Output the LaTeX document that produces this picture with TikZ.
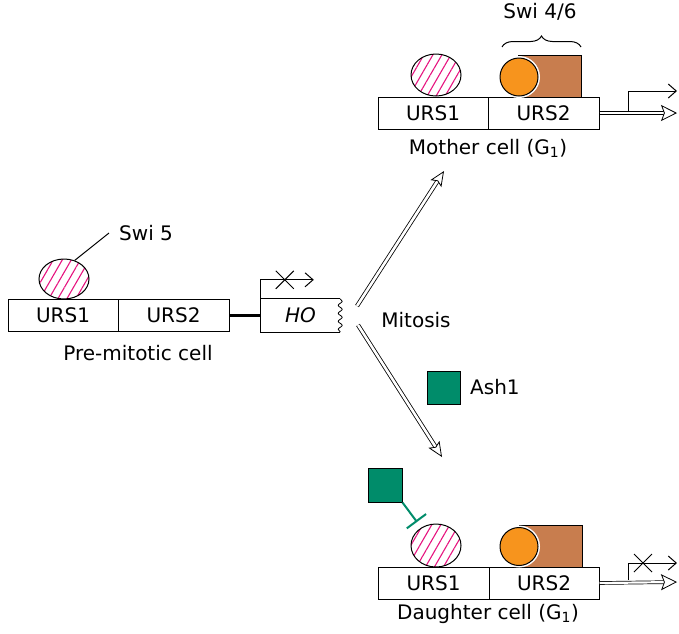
\documentclass[tikz,border=0pt]{standalone}
\usepackage{fontspec}
\setmainfont{DejaVu Sans}
\usetikzlibrary{arrows.meta,shapes.geometric,patterns.meta,decorations.pathreplacing,decorations.pathmorphing,calc}
\definecolor{hatchpink}{HTML}{E6147F}
\definecolor{swiorange}{HTML}{F7941D}
\definecolor{swibrown}{HTML}{C87D4E}
\definecolor{ashgreen}{HTML}{008C6A}
\tikzset{
  urs/.style={draw, line width=1pt, minimum width=110pt, minimum height=32pt, inner sep=0pt, font=\fontsize{20}{24}\selectfont},
  lbl/.style={font=\fontsize{20}{24}\selectfont, inner sep=0pt},
  swifive/.style={ellipse, draw, line width=1pt, minimum width=50pt, minimum height=42pt, inner sep=0pt,
    pattern={Lines[angle=60, distance=7.8pt, line width=1.1pt]}, pattern color=hatchpink},
  swifour/.style={circle, draw=black, line width=1pt, fill=swiorange, minimum size=38pt, inner sep=0pt,
    preaction={draw=white, line width=4pt}},
  swisix/.style={draw, line width=1pt, fill=swibrown, minimum width=63pt, minimum height=42pt, inner sep=0pt},
  ash/.style={draw, line width=1pt, fill=ashgreen, minimum size=33pt, inner sep=0pt},
  mitarrow/.style={double, double distance=2.6pt, line width=0.8pt,
    -{Stealth[length=15pt, width=13pt, inset=3pt, fill=white, line width=0.8pt]}},
  txarrow/.style={double, double distance=2.2pt, line width=0.7pt,
    -{Stealth[length=16pt, width=16pt, inset=3pt, fill=white, line width=0.8pt]}},
  startarrow/.style={line width=1pt, -{Straight Barb[length=8pt, width=14pt, line width=1pt]}},
  blocked/.style={line width=1pt},
}
\begin{document}
\begin{tikzpicture}[x=1pt, y=-1pt]
\useasboundingbox (0,0) rectangle (679,633);

% ---- pre-mitotic cell ----
\node[urs] (p1) at (63,315.5) {URS1};
\node[urs, minimum width=111pt] (p2) at (173.5,315.5) {URS2};
\node[lbl, minimum width=79pt, minimum height=33pt] (ho) at (300.5,315.5) {\itshape HO};
\draw[line width=1pt] (ho.north east) -- (ho.north west) -- (ho.south west) -- (ho.south east);
\draw[line width=0.8pt, decorate, decoration={snake, segment length=8pt, amplitude=2pt}] (ho.north east) -- (ho.south east);
\draw[line width=2.6pt] (p2.east) -- (ho.west);
\coordinate (hoturn) at ($(ho.north west)+(0,-19)$);
\coordinate (hoend) at ($(hoturn)+(53,0)$);
\draw[startarrow] (ho.north west) -- (hoturn) -- (hoend);
\coordinate (hox) at ($(hoturn)+(24,0)$);
\draw[blocked] ($(hox)+(-9,-9)$) -- ($(hox)+(9,9)$) ($(hox)+(-9,9)$) -- ($(hox)+(9,-9)$);
\node[swifive, minimum height=40pt] (e0) at (64,279) {};
\node[lbl, anchor=west] (s5) at (119,233) {Swi 5};
\draw[line width=1pt] (e0.60) -- ($(s5.west)+(-10,0)$);
\node[lbl] (pre) at (138,353) {Pre-mitotic cell};

% ---- mitosis ----
\node[lbl] (mit) at (416,320) {Mitosis};
\coordinate (mu0) at (357,306);
\coordinate (mu1) at (444,171);
\coordinate (md0) at (358,325);
\coordinate (md1) at (442,457);
\draw[mitarrow] (mu0) -- (mu1);
\draw[mitarrow] (md0) -- (md1);
\node[ash] (ash1) at (443.5,387.5) {};
\node[lbl, anchor=west] (ashl) at (470,387) {Ash1};

% ---- mother cell ----
\node[urs] (m1) at (433,113) {URS1};
\node[urs, minimum width=111pt] (m2) at (543.5,113) {URS2};
\node[swifive] (e1) at (436,75) {};
\node[swisix] (m6) at (550,76) {};
\node[swifour] (m4) at (519,77) {};
\draw[line width=1pt, decorate, decoration={brace, amplitude=11pt}] (502,47) -- (581,47);
\node[lbl] (m46) at (540,12) {Swi 4/6};
\node[lbl] (mc) at (488,148) {Mother cell (G\textsubscript{1})};
\coordinate (mend) at (677,113);
\draw[txarrow] (m2.east) -- (mend);
\coordinate (mbase) at (628,111);
\coordinate (mturn) at (628,91);
\coordinate (mtip) at (677,91);
\draw[startarrow] (mbase) -- (mturn) -- (mtip);

% ---- daughter cell ----
\node[urs, minimum width=111pt] (d1) at (433.5,583) {URS1};
\node[urs, minimum width=110pt] (d2) at (544,583) {URS2};
\node[swifive, minimum height=43pt] (e2) at (436,545.5) {};
\node[swisix] (d6) at (550.5,546) {};
\node[swifour] (d4) at (519,546.5) {};
\node[lbl] (dc) at (488,614) {Daughter cell (G\textsubscript{1})};
\coordinate (dend) at (677,582);
\draw[txarrow] (d2.east) -- (dend);
\coordinate (dbase) at (628,580);
\coordinate (dturn) at (628,563);
\coordinate (dtip) at (677,563);
\draw[startarrow] (dbase) -- (dturn) -- (dtip);
\coordinate (dx) at (643,563);
\draw[blocked] ($(dx)+(-9,-9)$) -- ($(dx)+(9,9)$) ($(dx)+(-9,9)$) -- ($(dx)+(9,-9)$);
\node[ash, minimum size=34pt] (ash2) at (385,485) {};
\coordinate (inh) at (417,522);
\draw[ashgreen, line width=2pt, -{Bar[width=24pt, line width=2pt]}] (ash2.south east) -- (inh);
\end{tikzpicture}
\end{document}
